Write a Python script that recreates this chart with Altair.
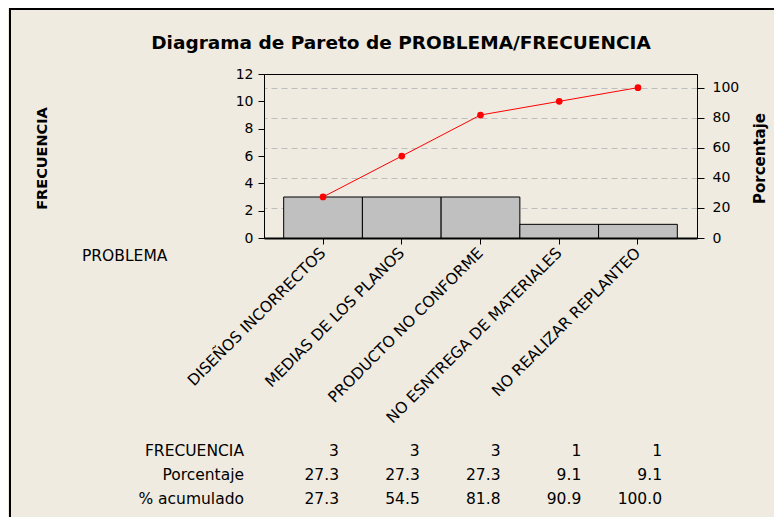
import altair as alt
import pandas as pd

problema = ["DISEÑOS INCORRECTOS", "MEDIAS DE LOS PLANOS", "PRODUCTO NO CONFORME",
            "NO ESNTREGA DE MATERIALES", "NO REALIZAR REPLANTEO"]
frecuencia = [3, 3, 3, 1, 1]
porcentaje = [27.3, 27.3, 27.3, 9.1, 9.1]
acumulado = [27.3, 54.5, 81.8, 90.9, 100.0]
row_labels = ["FRECUENCIA", "Porcentaje", "% acumulado"]
freq_ticks = [0, 2, 4, 6, 8, 10, 12]
pct_ticks = [0, 20, 40, 60, 80, 100]
title_text = "Diagrama de Pareto de PROBLEMA/FRECUENCIA"

FONT = "DejaVu Sans"
BG = "#EFEBE1"
TABLE_FS = 15.5

df = pd.DataFrame({
    "PROBLEMA": problema,
    "FRECUENCIA": frecuencia,
    "Porcentaje": porcentaje,
    "Acumulado": acumulado,
    "f_txt": [str(v) for v in frecuencia],
    "p_txt": [f"{v:.1f}" for v in porcentaje],
    "a_txt": [f"{v:.1f}" for v in acumulado],
})

total = sum(frecuencia)
pct_max = 12 / total * 100

xscale = alt.Scale(paddingInner=0, paddingOuter=0.25)
cscale = alt.Scale(type="point", padding=0.75)
tscale = alt.Scale(type="point", padding=0.681)

x_axis = alt.X("PROBLEMA:N", sort=problema, scale=xscale, title=None,
               axis=alt.Axis(labelAngle=-45, labelFontSize=15.5, labelFont=FONT,
                             labelColor="black", labelLimit=400, tickSize=6,
                             tickColor="black", domain=True, domainColor="black",
                             domainWidth=2, labelPadding=6,
                             labelOverlap=False, labelAlign="right",
                             labelBaseline="middle"))
x_cum = alt.X("PROBLEMA:N", sort=problema, scale=cscale, axis=None)
x_tab = alt.X("PROBLEMA:N", sort=problema, scale=tscale, axis=None)

base = alt.Chart(df)

bars = base.mark_bar(fill="#C0C0C0", stroke="black", strokeWidth=1).encode(
    x=x_axis,
    y=alt.Y("FRECUENCIA:Q", scale=alt.Scale(domain=[0, 12], nice=False),
            axis=alt.Axis(values=freq_ticks, labelFontSize=14, labelFont=FONT,
                          labelColor="black", tickSize=6, tickColor="black",
                          domainColor="black", labelPadding=5, grid=False,
                          labelOverlap=False,
                          title="FRECUENCIA", titleFont=FONT, titleFontSize=14.5,
                          titleFontWeight="bold", titleColor="black",
                          titleAngle=270, titleX=-222, titleY=84,
                          titleAlign="center", titleBaseline="middle")),
)

pct_axis = alt.Axis(orient="right", values=pct_ticks, tickCount=6, labelFontSize=14,
                    labelFont=FONT, labelColor="black", tickSize=7,
                    tickColor="black", domainColor="black", labelPadding=8,
                    labelOverlap=False,
                    grid=True, gridDash=[6, 4], gridColor="#BDBDBD",
                    title="Porcentaje", titleFont=FONT, titleFontSize=15,
                    titleFontWeight="bold", titleColor="black",
                    titleAngle=270, titleX=62, titleY=84,
                    titleAlign="center", titleBaseline="middle")
y_pct = alt.Y("Acumulado:Q", scale=alt.Scale(domain=[0, pct_max], nice=False),
              axis=pct_axis)

line = base.mark_line(color="#FF0000", strokeWidth=1).encode(x=x_cum, y=y_pct)
pts = base.mark_point(filled=True, color="#FF0000", size=45, opacity=1).encode(
    x=x_cum, y=y_pct)
cum = alt.layer(line, pts)

table_rows = []
for i, col in enumerate(["f_txt", "p_txt", "a_txt"]):
    table_rows.append(
        base.mark_text(align="right", baseline="middle", fontSize=TABLE_FS, font=FONT,
                       color="black", dx=20).encode(
            x=x_tab, y=alt.value(377 + 24 * i), text=alt.Text(f"{col}:N"))
    )
    table_rows.append(
        alt.Chart(pd.DataFrame({"t": [row_labels[i]]})).mark_text(
            align="right", baseline="middle", fontSize=TABLE_FS, font=FONT,
            color="black"
        ).encode(x=alt.value(-20), y=alt.value(377 + 24 * i), text="t:N")
    )

prob_label = alt.Chart(pd.DataFrame({"t": ["PROBLEMA"]})).mark_text(
    align="left", baseline="middle", fontSize=TABLE_FS, font=FONT, color="black"
).encode(x=alt.value(-182), y=alt.value(182), text="t:N")

title_mark = alt.Chart(pd.DataFrame({"t": [title_text]})).mark_text(
    align="center", baseline="alphabetic", fontSize=18.5, font=FONT,
    fontWeight="bold", color="black"
).encode(x=alt.value(137), y=alt.value(-25), text="t:N")

border = alt.Chart(pd.DataFrame({"t": [0]})).mark_rule(color="black", strokeWidth=2)
left_border = border.encode(x=alt.value(-254), y=alt.value(-66), y2=alt.value(460))
top_border = border.encode(x=alt.value(-255), x2=alt.value(520), y=alt.value(-65))

chart = alt.layer(bars, cum, *table_rows, prob_label, title_mark,
                  left_border, top_border).resolve_scale(
    x="independent", y="independent"
).properties(
    width=433, height=164,
    autosize=alt.AutoSizeParams(type="none"),
    padding={"left": 256, "top": 66, "right": 77, "bottom": 279},
    background=BG,
).configure_view(stroke="black", strokeWidth=1)

chart.save("out.html", embed_options={"renderer": "svg", "actions": False})
